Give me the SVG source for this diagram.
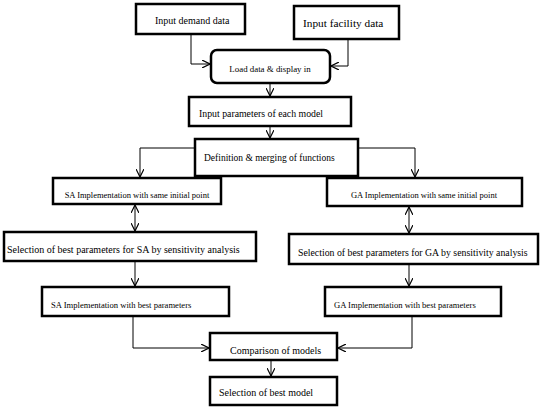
<svg xmlns="http://www.w3.org/2000/svg" width="550" height="410" viewBox="0 0 550 410">
<style>
.box{fill:#fff;stroke:#000;stroke-width:2.5}
.ln{fill:none;stroke:#000;stroke-width:1}
text{font-family:"Liberation Serif","Times New Roman",serif;fill:#000}
</style>
<defs>
<marker id="ah" viewBox="0 0 10 10" refX="10" refY="5" markerWidth="8" markerHeight="8" markerUnits="userSpaceOnUse" orient="auto-start-reverse">
<path d="M0,0 L10,5 L0,10" fill="none" stroke="#000" stroke-width="1.5"/>
</marker>
</defs>
<rect width="550" height="410" fill="#fff"/>
<g id="connectors">
<polyline class="ln" points="191,34 191,64 210,64" marker-end="url(#ah)"/>
<polyline class="ln" points="348,39 348,66 331,66" marker-end="url(#ah)"/>
<line class="ln" x1="270" y1="84" x2="270" y2="96" marker-end="url(#ah)"/>
<line class="ln" x1="270" y1="126" x2="270" y2="138" marker-end="url(#ah)"/>
<polyline class="ln" points="195,148 140,148 140,177" marker-end="url(#ah)"/>
<polyline class="ln" points="358,148 415,148 415,177" marker-end="url(#ah)"/>
<line class="ln" x1="135" y1="205" x2="135" y2="231" marker-start="url(#ah)" marker-end="url(#ah)"/>
<line class="ln" x1="409" y1="207" x2="409" y2="233" marker-start="url(#ah)" marker-end="url(#ah)"/>
<line class="ln" x1="135" y1="261" x2="135" y2="286" marker-end="url(#ah)"/>
<line class="ln" x1="409" y1="264" x2="409" y2="286" marker-end="url(#ah)"/>
<polyline class="ln" points="133,316 133,348 209,348" marker-end="url(#ah)"/>
<polyline class="ln" points="412,316 412,348 338,348" marker-end="url(#ah)"/>
<line class="ln" x1="271" y1="360" x2="271" y2="376" marker-end="url(#ah)"/>
</g>
<g id="n1"><rect class="box" x="136" y="4" width="109" height="30"/><text x="155" y="24" font-size="10">Input demand data</text></g>
<g id="n2"><rect class="box" x="294" y="6" width="105" height="33"/><text x="303" y="27" font-size="11.3">Input facility data</text></g>
<g id="n3"><rect class="box" x="211" y="50" width="119" height="33" rx="6"/><text x="270" y="72" font-size="8.9" text-anchor="middle">Load data &amp; display in</text></g>
<g id="n4"><rect class="box" x="189" y="97" width="162" height="29"/><text x="199" y="117" font-size="9.8">Input parameters of each model</text></g>
<g id="n5"><rect class="box" x="195" y="139" width="163" height="37"/><text x="204" y="161" font-size="9.5">Definition &amp; merging of functions</text></g>
<g id="n6"><rect class="box" x="53" y="178" width="168" height="26"/><text x="137" y="198" font-size="8.5" text-anchor="middle">SA Implementation with same initial point</text></g>
<g id="n7"><rect class="box" x="327" y="178" width="195" height="28"/><text x="424" y="198" font-size="8.5" text-anchor="middle">GA Implementation with same initial point</text></g>
<g id="n8"><rect class="box" x="4" y="232" width="252" height="29"/><text x="7" y="253" font-size="10">Selection of best parameters for SA by sensitivity analysis</text></g>
<g id="n9"><rect class="box" x="289" y="234" width="249" height="30"/><text x="298" y="256" font-size="9.8">Selection of best parameters for GA by sensitivity analysis</text></g>
<g id="n10"><rect class="box" x="42" y="287" width="187" height="29"/><text x="51" y="308" font-size="8.6">SA Implementation with best parameters</text></g>
<g id="n11"><rect class="box" x="325" y="287" width="176" height="29"/><text x="334" y="308" font-size="8.6">GA Implementation with best parameters</text></g>
<g id="n12"><rect class="box" x="210" y="333" width="127" height="27"/><text x="230" y="354" font-size="10">Comparison of models</text></g>
<g id="n13"><rect class="box" x="210" y="377" width="127" height="28"/><text x="219" y="396" font-size="10">Selection of best model</text></g>
</svg>
